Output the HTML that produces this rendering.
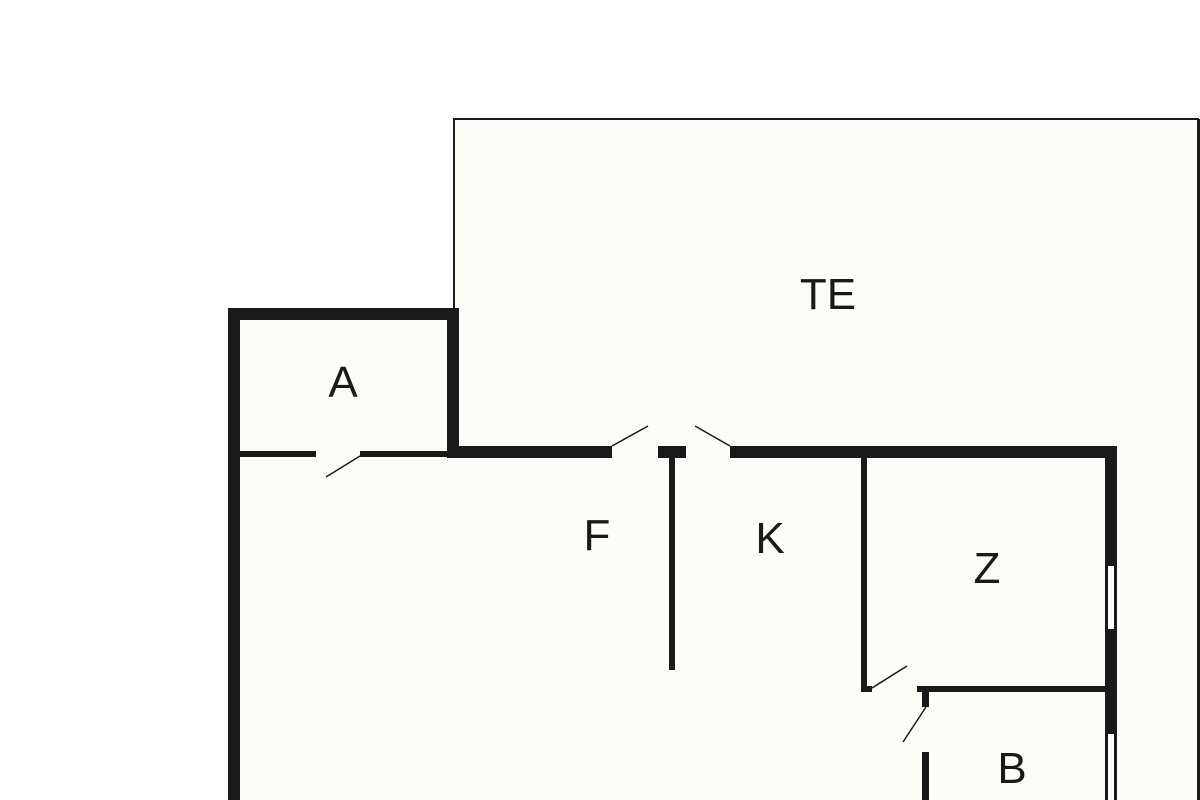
<!DOCTYPE html>
<html><head><style>body{margin:0;background:#fff}</style></head><body>
<svg width="1200" height="800" xmlns="http://www.w3.org/2000/svg" style="display:block">
<rect x="454" y="119" width="744" height="700" fill="#fdfdf8" stroke="#1a1a1a" stroke-width="2"/>
<rect x="1197" y="119" width="3" height="681" fill="#1a1a1a"/>
<rect x="234" y="314" width="880" height="500" fill="#fdfdf8"/>
<rect x="234" y="450" width="880" height="360" fill="#fdfdf8"/>
<g fill="#1a1a1a">
<rect x="228" y="308" width="12" height="492"/>
<rect x="228" y="308" width="231" height="12"/>
<rect x="447" y="308" width="12" height="150"/>
<rect x="240" y="451" width="76" height="6"/>
<rect x="360" y="451" width="90" height="6"/>
<rect x="447" y="446" width="165" height="12"/>
<rect x="658" y="446" width="28" height="12"/>
<rect x="669" y="458" width="6" height="212"/>
<rect x="730" y="446" width="387" height="12"/>
<rect x="1105" y="446" width="12" height="354"/>
<rect x="861" y="458" width="6" height="234"/>
<rect x="861" y="686" width="11" height="6"/>
<rect x="917" y="686" width="188" height="6"/>
<rect x="922" y="686" width="7" height="21"/>
<rect x="922" y="752" width="7" height="48"/>
</g>
<g fill="#fff" stroke="#1a1a1a" stroke-width="1">
<rect x="1107.5" y="565.5" width="7" height="64"/>
<rect x="1107.5" y="733.5" width="7" height="70"/>
</g>
<g stroke="#1a1a1a" stroke-width="1.5">
<line x1="360" y1="456" x2="326" y2="477"/>
<line x1="612" y1="446" x2="648" y2="426"/>
<line x1="730" y1="446" x2="695" y2="426"/>
<line x1="872" y1="688" x2="907" y2="666"/>
<line x1="926" y1="707" x2="903" y2="742"/>
</g>
<g font-family="Liberation Sans, sans-serif" fill="#1a1a1a" text-anchor="middle" font-size="44">
<text x="828" y="309">TE</text>
<text x="343" y="397">A</text>
<text x="597" y="550">F</text>
<text x="770" y="553">K</text>
<text x="987" y="583">Z</text>
<text x="1012" y="783">B</text>
</g>
</svg>
</body></html>
